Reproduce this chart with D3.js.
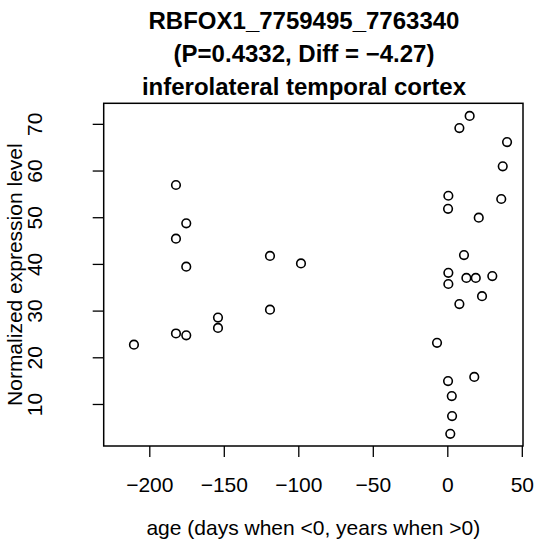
<!DOCTYPE html>
<html>
<head>
<meta charset="utf-8">
<script src="https://cdn.jsdelivr.net/npm/d3@7"></script>
<style>
  body { margin: 0; background: #fff; }
  text { font-family: "Liberation Sans", Arial, Helvetica, sans-serif; fill: #000; }
</style>
</head>
<body>
<svg id="chart" width="536" height="553"></svg>
<script>
// age (days when <0, years when >0)
const ages = [-182.1, -175.2, -182.1, -175.2, -119.0, -98.2, -210.3, -182.1, -175.2, -153.9, -153.9, -119.0,
    15.0, 8.1, 40.1, 37.2, 0.7, 0.5, 36.2, 21.1, 11.2, 0.7, 0.7, 12.8, 19.1, 30.2, 23.3, 8.1, -6.9, 0.5, 18.1, 3.0, 3.2, 2.0];
// normalized expression level
const expression = [56.9, 48.7, 45.4, 39.4, 41.7, 40.1, 22.7, 25.1, 24.7, 28.5, 26.3, 30.2,
    71.7, 69.1, 66.1, 60.9, 54.6, 51.8, 53.9, 49.9, 41.9, 38.1, 35.7, 37.0, 37.0, 37.4, 33.1, 31.4, 23.1, 14.9, 15.8, 11.7, 7.4, 3.6];

const xTicks = [-200, -150, -100, -50, 0, 50];
const yTicks = [10, 20, 30, 40, 50, 60, 70];
const xLimits = [-230.6, 50.8];
const yLimits = [1.0, 74.4];

const titleLines = ["RBFOX1_7759495_7763340", "(P=0.4332, Diff = \u22124.27)", "inferolateral temporal cortex"];
const xLabel = "age (days when <0, years when >0)";
const yLabel = "Normalized expression level";

const points = ages.map((a, i) => ({ age: a, value: expression[i] }));

let svg = d3.select("#chart");
let margin = {top: 103.3, right: 13, bottom: 107, left: 103.7};
let width = +svg.attr("width") - margin.left - margin.right;
let height = +svg.attr("height") - margin.top - margin.bottom;

let x_scale = d3.scaleLinear().domain(xLimits).range([0, width]);
let y_scale = d3.scaleLinear().domain(yLimits).range([height, 0]);

let g = svg.append("g")
    .attr("transform", `translate(${margin.left},${margin.top})`);

// x axis
let xAxis = g.append("g")
    .attr("transform", `translate(0,${height})`)
    .call(d3.axisBottom(x_scale).tickValues(xTicks).tickSize(11).tickFormat(d3.format("d")));
xAxis.select(".domain").remove();
xAxis.selectAll(".tick line").attr("stroke", "#000").attr("stroke-width", 1.3);
xAxis.selectAll(".tick text")
    .attr("y", 46)
    .attr("dy", 0)
    .style("font-size", "21px");

// y axis, labels rotated like R
let yAxis = g.append("g")
    .call(d3.axisLeft(y_scale).tickValues(yTicks).tickSize(11));
yAxis.select(".domain").remove();
yAxis.selectAll(".tick line").attr("stroke", "#000").attr("stroke-width", 1.3);
yAxis.selectAll(".tick text")
    .attr("x", 0)
    .attr("dy", 0)
    .attr("transform", `translate(${42 - margin.left},0) rotate(-90)`)
    .style("text-anchor", "middle")
    .style("font-size", "21px");

// box
g.append("rect")
    .attr("width", width)
    .attr("height", height)
    .attr("fill", "none")
    .attr("stroke", "#000")
    .attr("stroke-width", 1.5);

// points
g.selectAll(".pt")
    .data(points)
    .enter().append("circle")
    .attr("class", "pt")
    .attr("cx", d => x_scale(d.age))
    .attr("cy", d => y_scale(d.value))
    .attr("r", 4.3)
    .attr("fill", "none")
    .attr("stroke", "#000")
    .attr("stroke-width", 1.6);

// x label
svg.append("text")
    .attr("x", margin.left + width / 2)
    .attr("y", 535)
    .attr("text-anchor", "middle")
    .style("font-size", "21px")
    .text(xLabel);

// y label
svg.append("text")
    .attr("transform", `translate(22,${margin.top + height / 2}) rotate(-90)`)
    .attr("text-anchor", "middle")
    .style("font-size", "21px")
    .text(yLabel);

// title
svg.selectAll(".title")
    .data(titleLines)
    .enter().append("text")
    .attr("class", "title")
    .attr("x", 304)
    .attr("y", (d, i) => 29 + i * 33)
    .attr("text-anchor", "middle")
    .style("font-size", "24px")
    .style("font-weight", "bold")
    .text(d => d);
</script>
</body>
</html>
